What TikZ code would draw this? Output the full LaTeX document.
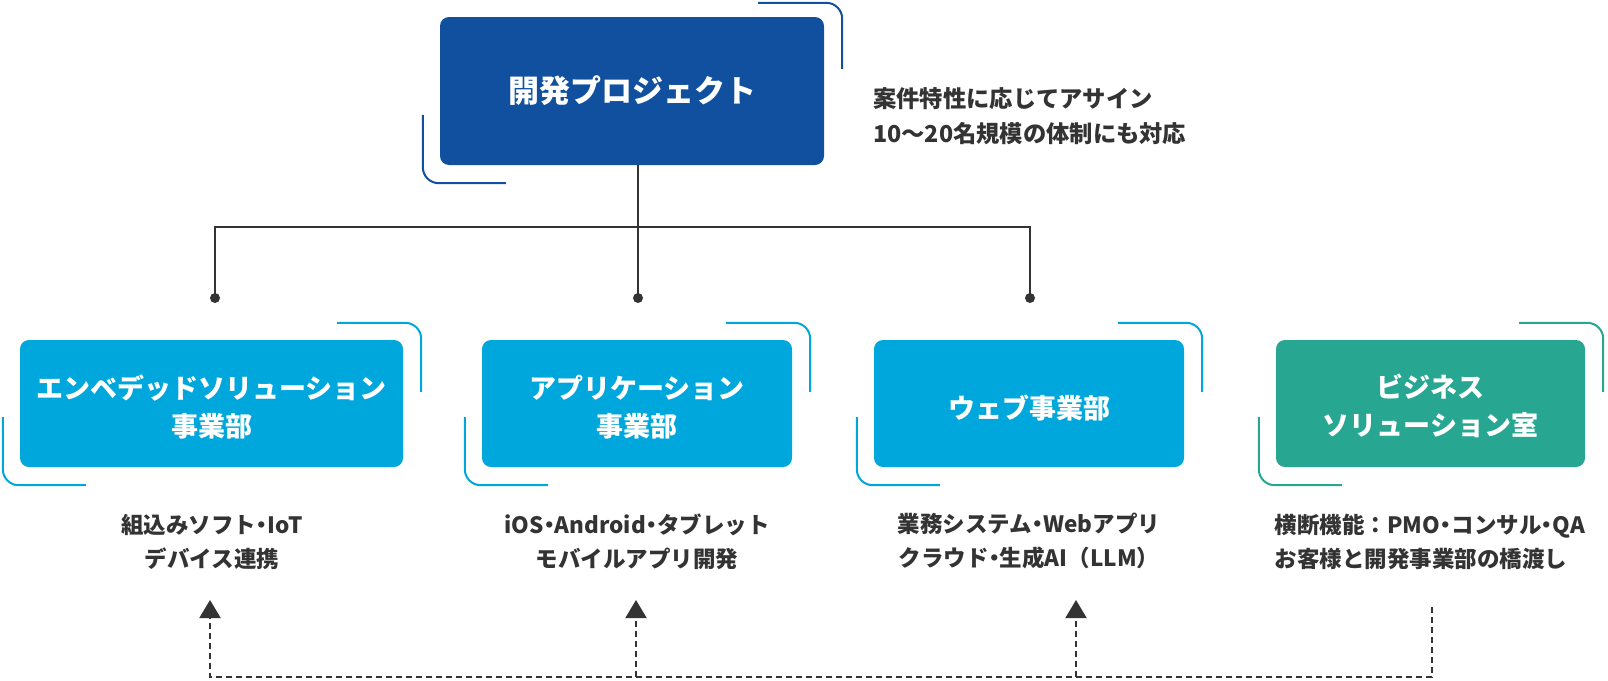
\documentclass[tikz,border=0pt]{standalone}
\usepackage{fontspec}
\setmainfont{Noto Sans CJK JP}
\usetikzlibrary{arrows.meta,calc}
\definecolor{navy}{HTML}{11509E}
\definecolor{sky}{HTML}{00A7DC}
\definecolor{teal2}{HTML}{27A791}
\definecolor{ink}{HTML}{333333}
\newcommand\nd{{\addfontfeature{RawFeature=+palt}・}}
\tikzset{
  boxshape/.style={rounded corners=9pt, inner sep=0pt, draw=none},
  boxlabel/.style={text=white, inner sep=0pt, align=center, font=\bfseries\fontsize{27}{38}\selectfont},
  desc/.style={text=ink, inner sep=0pt, align=center, font=\bfseries\fontsize{22.5}{34}\selectfont},
  conn/.style={draw=ink, line width=2pt},
  dot/.style={circle, fill=ink, inner sep=0pt, minimum size=10pt},
  flow/.style={draw=ink, line width=2pt, dash pattern=on 6pt off 4pt},
  flowarrow/.style={flow, -{Triangle[width=21pt,length=18pt]}},
  bracketline/.style={line width=2pt, rounded corners=16pt}
}
\newcommand\cornerlines[3]{%
  \draw[bracketline, #2] ($(#1.north east)+(-66,-#3)$) -- ($(#1.north east)+(18,-#3)$) -- ($(#1.north east)+(18,52)$);
  \draw[bracketline, #2] ($(#1.south west)+(-17,-50)$) -- ($(#1.south west)+(-17,18)$) -- ($(#1.south west)+(66,18)$);
}
\begin{document}
\begin{tikzpicture}[x=1pt, y=-1pt]
\useasboundingbox (0,0) rectangle (1608,680);

% top project box
\node[boxshape, fill=navy, minimum width=384pt, minimum height=148pt] (proj) at (632,91) {};
\node[boxlabel, font=\bfseries\fontsize{31}{38}\selectfont] (projT) at (632,91) {開発プロジェクト};
\cornerlines{proj}{navy}{14}

\node[desc, align=left, anchor=west, font=\bfseries\fontsize{23.3}{35}\selectfont] (note) at (873,116)
  {案件特性に応じてアサイン\\10〜20名規模の体制にも対応};

% department boxes
\node[boxshape, fill=sky, minimum width=383pt, minimum height=127pt] (emb) at (211.5,403.5) {};
\node[boxlabel] (embT) at (211.5,407) {エンベデッドソリューション\\事業部};
\cornerlines{emb}{sky}{17}

\node[boxshape, fill=sky, minimum width=310pt, minimum height=127pt] (app) at (637,403.5) {};
\node[boxlabel] (appT) at (637,407) {アプリケーション\\事業部};
\cornerlines{app}{sky}{17}

\node[boxshape, fill=sky, minimum width=310pt, minimum height=127pt] (web) at (1029,403.5) {};
\node[boxlabel] (webT) at (1029,408) {ウェブ事業部};
\cornerlines{web}{sky}{17}

\node[boxshape, fill=teal2, minimum width=309pt, minimum height=127pt] (biz) at (1430.5,403.5) {};
\node[boxlabel] (bizT) at (1430.5,406) {ビジネス\\ソリューション室};
\cornerlines{biz}{teal2}{17}

% descriptions
\node[desc] (embD) at (212,542) {組込みソフト\nd IoT\\デバイス連携};
\node[desc] (appD) at (637,542) {iOS\nd Android\nd タブレット\\モバイルアプリ開発};
\node[desc] (webD) at (1029,541) {業務システム\nd Webアプリ\\クラウド\nd 生成AI（LLM）};
\node[desc, align=left] (bizD) at (1430,542) {横断機能：PMO\nd コンサル\nd QA\\お客様と開発事業部の橋渡し};

% tree connectors
\coordinate (hub) at (638,227);
\node[dot] (d1) at (215,298) {};
\node[dot] (d2) at (638,298) {};
\node[dot] (d3) at (1030,298) {};
\draw[conn] (proj.south -| d2) -- (d2.center);
\draw[conn] (d1.center) -- (d1 |- hub) -- (d3 |- hub) -- (d3.center);

% dashed feedback arrows
\coordinate (t1) at (210,600);
\coordinate (t2) at (636,600);
\coordinate (t3) at (1076,600);
\coordinate (s4) at (1432,607);
\coordinate (base) at (0,677);
\draw[flowarrow] (s4) -- (s4 |- base) -- (t1 |- base) -- (t1);
\draw[flowarrow] (t2 |- base) -- (t2);
\draw[flowarrow] (t3 |- base) -- (t3);
\end{tikzpicture}
\end{document}
